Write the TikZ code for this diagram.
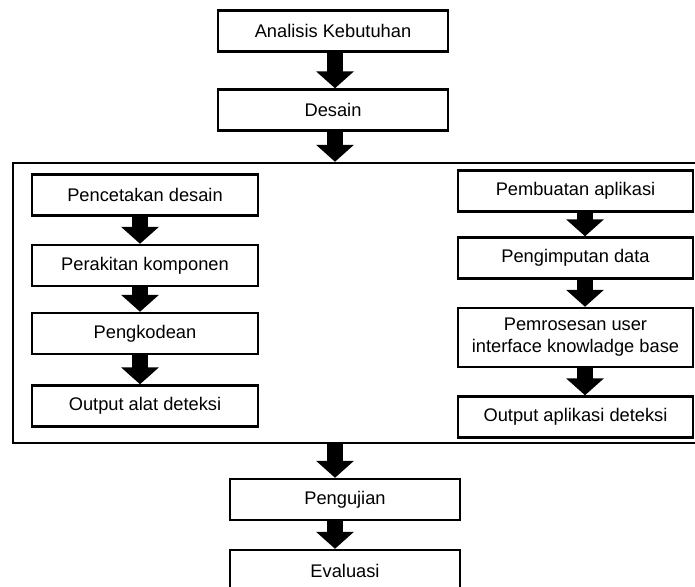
\documentclass[tikz,border=0pt]{standalone}
\usepackage{fontspec}
\setmainfont{Liberation Sans}
\usetikzlibrary{arrows.meta}

\begin{document}
\begin{tikzpicture}[x=0.03cm,y=-0.03cm]
   \tikzstyle{box} = [draw, line width=2.1pt, rectangle, inner sep=0pt,
                      minimum width=6.9cm, minimum height=1.23cm,
                      font=\fontsize{15.6}{18.8}\selectfont, align=center]
   \tikzstyle{arr} = [draw, line width=13.7pt,
                      -{Triangle[width=31.6pt,length=14.5pt]}]
   \useasboundingbox (0,0) rectangle (695,587);

   \node[box] (ana) at (333,31)  {Analisis Kebutuhan};
   \node[box] (des) at (333,110) {Desain};
   \node[draw, line width=2.1pt, inner sep=0pt,
         minimum width=20.55cm, minimum height=8.4cm] (impl) at (355.5,303) {};

   % kolom kiri
   \node[box, minimum width=6.78cm] (cetak)   at (145,195)   {Pencetakan desain};
   \node[box, minimum width=6.78cm] (rakit)   at (145,265.5) {Perakitan komponen};
   \node[box, minimum width=6.78cm] (kode)    at (145,333.5) {Pengkodean};
   \node[box, minimum width=6.78cm] (outalat) at (145,406)   {Output alat deteksi};

   % kolom kanan
   \node[box, minimum width=7.05cm] (buat)   at (575.5,191)   {Pembuatan aplikasi};
   \node[box, minimum width=7.05cm] (input)  at (575.5,258)   {Pengimputan data};
   \node[box, minimum width=7.05cm, minimum height=1.77cm] (proses) at (575.5,337.5)
         {Pemrosesan user\\interface knowladge base};
   \node[box, minimum width=7.05cm] (outapp) at (575.5,417)   {Output aplikasi deteksi};

   \node[box] (uji)  at (345,499.5) {Pengujian};
   \node[box] (eval) at (345,570.5) {Evaluasi};

   \draw[arr] ([xshift=0.06cm]ana.south) -- ([xshift=0.06cm]des.north);
   \draw[arr] ([xshift=0.06cm]des.south) -- ([xshift=0.06cm]des.south |- impl.north);

   \draw[arr] ([xshift=-0.15cm]cetak.south) -- ([xshift=-0.15cm]rakit.north);
   \draw[arr] ([xshift=-0.15cm]rakit.south) -- ([xshift=-0.15cm]kode.north);
   \draw[arr] ([xshift=-0.15cm]kode.south)  -- ([xshift=-0.15cm]outalat.north);

   \draw[arr] ([xshift=0.285cm]buat.south)   -- ([xshift=0.285cm]input.north);
   \draw[arr] ([xshift=0.285cm]input.south)  -- ([xshift=0.285cm]proses.north);
   \draw[arr] ([xshift=0.285cm]proses.south) -- ([xshift=0.285cm]outapp.north);

   \draw[arr] ([xshift=-0.3cm]uji.north |- impl.south) -- ([xshift=-0.3cm]uji.north);
   \draw[arr] ([xshift=-0.3cm]uji.south) -- ([xshift=-0.3cm]eval.north);

\end{tikzpicture}
\end{document}
